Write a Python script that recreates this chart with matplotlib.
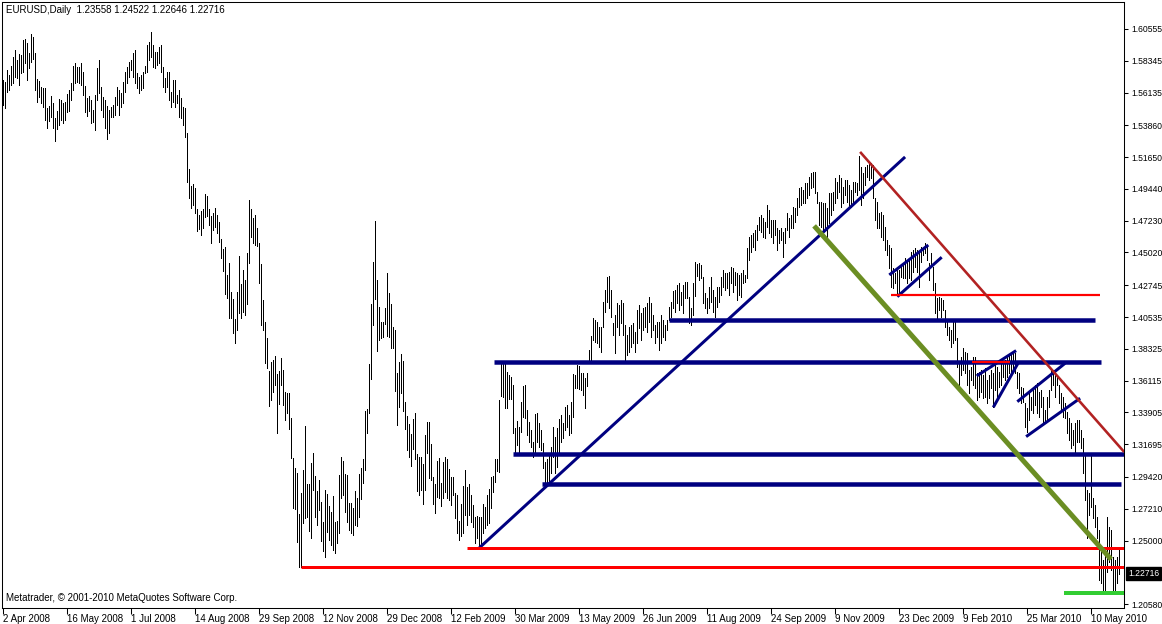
import matplotlib
matplotlib.use("Agg")
import matplotlib.pyplot as plt
import matplotlib.transforms as mtransforms
import numpy as np

plt.rcParams['font.family'] = ['Liberation Sans', 'DejaVu Sans']

symbol_title = "EURUSD,Daily  1.23558 1.24522 1.22646 1.22716"
copyright_text = "Metatrader, \u00a9 2001-2010 MetaQuotes Software Corp."

date_labels = ["2 Apr 2008", "16 May 2008", "1 Jul 2008", "14 Aug 2008", "29 Sep 2008",
               "12 Nov 2008", "29 Dec 2008", "12 Feb 2009", "30 Mar 2009", "13 May 2009",
               "26 Jun 2009", "11 Aug 2009", "24 Sep 2009", "9 Nov 2009", "23 Dec 2009",
               "9 Feb 2010", "25 Mar 2010", "10 May 2010"]
bars_per_date_label = 32

price_ticks = [1.60555, 1.58345, 1.56135, 1.53860, 1.51650, 1.49440, 1.47230, 1.45020,
               1.42745, 1.40535, 1.38325, 1.36115, 1.33905, 1.31695, 1.29420, 1.27210,
               1.25000, 1.20580]
price_tick_labels = ["1.60555", "1.58345", "1.56135", "1.53860", "1.51650", "1.49440",
                     "1.47230", "1.45020", "1.42745", "1.40535", "1.38325", "1.36115",
                     "1.33905", "1.31695", "1.29420", "1.27210", "1.25000", "1.20580"]
last_price = 1.22716
last_price_label = "1.22716"

# daily highs (bar 0 = 2 Apr 2008)
high = [
    1.5701, 1.5687, 1.5771, 1.5736, 1.5798, 1.5861, 1.5910, 1.5840, 1.5882, 1.5875,
    1.5979, 1.5986, 1.5958, 1.5889, 1.6021, 1.6000, 1.5889, 1.5708, 1.5694, 1.5652,
    1.5645, 1.5645, 1.5506, 1.5520, 1.5590, 1.5541, 1.5437, 1.5486, 1.5569, 1.5562,
    1.5541, 1.5548, 1.5604, 1.5632, 1.5680, 1.5798, 1.5819, 1.5791, 1.5791, 1.5819,
    1.5757, 1.5659, 1.5576, 1.5590, 1.5562, 1.5493, 1.5597, 1.5785, 1.5840, 1.5652,
    1.5583, 1.5562, 1.5520, 1.5493, 1.5513, 1.5527, 1.5583, 1.5652, 1.5632, 1.5611,
    1.5687, 1.5757, 1.5791, 1.5826, 1.5840, 1.5889, 1.5910, 1.5750, 1.5722, 1.5736,
    1.5757, 1.5798, 1.5944, 1.5965, 1.6035, 1.5944, 1.5896, 1.5896, 1.5930, 1.5944,
    1.5791, 1.5715, 1.5757, 1.5757, 1.5618, 1.5701, 1.5701, 1.5597, 1.5632, 1.5576,
    1.5513, 1.5506, 1.5333, 1.5083, 1.4965, 1.4979, 1.4951, 1.4805, 1.4763, 1.4791,
    1.4805, 1.4909, 1.4895, 1.4805, 1.4756, 1.4777, 1.4812, 1.4763, 1.4714, 1.4596,
    1.4527, 1.4541, 1.4346, 1.4429, 1.4228, 1.4179, 1.4040, 1.4228, 1.4478, 1.4283,
    1.4381, 1.4311, 1.4499, 1.4867, 1.4805, 1.4742, 1.4763, 1.4673, 1.4568, 1.4422,
    1.4172, 1.4019, 1.3908, 1.3679, 1.3741, 1.3755, 1.3783, 1.3658, 1.3679, 1.3769,
    1.3686, 1.3533, 1.3526, 1.3526, 1.3352, 1.3074, 1.3005, 1.2970, 1.2685, 1.2831,
    1.2991, 1.3296, 1.2893, 1.2893, 1.3039, 1.3109, 1.2949, 1.2845, 1.2921, 1.2768,
    1.2629, 1.2852, 1.2824, 1.2741, 1.2699, 1.2810, 1.2629, 1.2636, 1.2956, 1.3081,
    1.3053, 1.2963, 1.2956, 1.2761, 1.2761, 1.2727, 1.2845, 1.2796, 1.2963, 1.3005,
    1.3067, 1.3401, 1.3415, 1.3727, 1.4144, 1.4436, 1.4721, 1.4311, 1.4124, 1.4019,
    1.4019, 1.4117, 1.4360, 1.4221, 1.4144, 1.3985, 1.3964, 1.3665, 1.3741, 1.3797,
    1.3748, 1.3463, 1.3366, 1.3310, 1.3241, 1.3345, 1.3387, 1.3102, 1.3081, 1.3081,
    1.3032, 1.3234, 1.3324, 1.3324, 1.3171, 1.2942, 1.2893, 1.3053, 1.3074, 1.2900,
    1.3046, 1.3081, 1.3067, 1.2998, 1.2942, 1.2942, 1.2831, 1.2817, 1.2636, 1.2754,
    1.2880, 1.2991, 1.2873, 1.2893, 1.2817, 1.2747, 1.2664, 1.2671, 1.2664, 1.2664,
    1.2754, 1.2733, 1.2817, 1.2859, 1.2942, 1.2949, 1.3067, 1.3067, 1.3477, 1.3741,
    1.3741, 1.3734, 1.3672, 1.3651, 1.3637, 1.3581, 1.3282, 1.3331, 1.3289, 1.3463,
    1.3574, 1.3581, 1.3408, 1.3324, 1.3269, 1.3185, 1.3380, 1.3387, 1.3317, 1.3269,
    1.3178, 1.3046, 1.3067, 1.3095, 1.3151, 1.3289, 1.3220, 1.3282, 1.3345, 1.3373,
    1.3317, 1.3428, 1.3442, 1.3373, 1.3463, 1.3658, 1.3651, 1.3720, 1.3713, 1.3665,
    1.3665, 1.3630, 1.3665, 1.3825, 1.3922, 1.4047, 1.4033, 1.4019, 1.3985, 1.3985,
    1.4158, 1.4242, 1.4332, 1.4339, 1.4242, 1.4012, 1.4068, 1.4151, 1.4137, 1.4172,
    1.4151, 1.3999, 1.3929, 1.3985, 1.3999, 1.4012, 1.3950, 1.4103, 1.4137, 1.4082,
    1.4117, 1.4124, 1.4151, 1.4193, 1.4151, 1.4068, 1.3999, 1.4019, 1.4019, 1.4068,
    1.4033, 1.3999, 1.4033, 1.4124, 1.4158, 1.4235, 1.4242, 1.4276, 1.4290, 1.4228,
    1.4276, 1.4297, 1.4297, 1.4193, 1.4117, 1.4290, 1.4436, 1.4422, 1.4429, 1.4415,
    1.4332, 1.4221, 1.4186, 1.4262, 1.4332, 1.4242, 1.4193, 1.4262, 1.4262, 1.4332,
    1.4381, 1.4360, 1.4360, 1.4367, 1.4402, 1.4395, 1.4367, 1.4360, 1.4346, 1.4360,
    1.4381, 1.4346, 1.4534, 1.4610, 1.4624, 1.4638, 1.4659, 1.4693, 1.4749, 1.4763,
    1.4742, 1.4714, 1.4832, 1.4798, 1.4728, 1.4728, 1.4728, 1.4673, 1.4659, 1.4673,
    1.4645, 1.4673, 1.4777, 1.4742, 1.4763, 1.4819, 1.4812, 1.4881, 1.4951, 1.4958,
    1.4937, 1.4986, 1.4986, 1.5027, 1.5055, 1.5062, 1.5062, 1.4923, 1.4853, 1.4853,
    1.4846, 1.4846, 1.4812, 1.4916, 1.4916, 1.4923, 1.5020, 1.4992, 1.5041, 1.5020,
    1.4958, 1.5006, 1.5006, 1.4972, 1.4937, 1.4992, 1.4992, 1.4986, 1.5173, 1.5097,
    1.5055, 1.5097, 1.5110, 1.5131, 1.5124, 1.5110, 1.4881, 1.4853, 1.4777, 1.4784,
    1.4763, 1.4680, 1.4589, 1.4554, 1.4534, 1.4395, 1.4360, 1.4402, 1.4381, 1.4402,
    1.4429, 1.4464, 1.4450, 1.4464, 1.4506, 1.4520, 1.4534, 1.4520, 1.4506, 1.4541,
    1.4541, 1.4568, 1.4554, 1.4429, 1.4499, 1.4402, 1.4290, 1.4186, 1.4193, 1.4186,
    1.4172, 1.4103, 1.4033, 1.3985, 1.3964, 1.4019, 1.4019, 1.3908, 1.3741, 1.3776,
    1.3839, 1.3811, 1.3804, 1.3686, 1.3706, 1.3776, 1.3776, 1.3665, 1.3672, 1.3686,
    1.3651, 1.3700, 1.3616, 1.3651, 1.3686, 1.3665, 1.3734, 1.3706, 1.3672, 1.3734,
    1.3734, 1.3755, 1.3776, 1.3790, 1.3804, 1.3804, 1.3804, 1.3672, 1.3665, 1.3567,
    1.3561, 1.3456, 1.3422, 1.3533, 1.3498, 1.3561, 1.3581, 1.3595, 1.3533, 1.3547,
    1.3498, 1.3408, 1.3498, 1.3547, 1.3686, 1.3686, 1.3672, 1.3651, 1.3581, 1.3526,
    1.3498, 1.3456, 1.3394, 1.3352, 1.3317, 1.3269, 1.3317, 1.3338, 1.3338, 1.3269,
    1.3213, 1.3095, 1.2852, 1.2831, 1.3095, 1.2796, 1.2747, 1.2664, 1.2574, 1.2435,
    1.2365, 1.2435, 1.2664, 1.2595, 1.2574, 1.2386, 1.2365, 1.2386, 1.24522,
]

# daily lows
low = [
    1.5527, 1.5506, 1.5618, 1.5632, 1.5666, 1.5680, 1.5722, 1.5715, 1.5666, 1.5750,
    1.5757, 1.5819, 1.5701, 1.5785, 1.5826, 1.5847, 1.5632, 1.5548, 1.5583, 1.5541,
    1.5513, 1.5423, 1.5367, 1.5416, 1.5444, 1.5367, 1.5277, 1.5360, 1.5388, 1.5423,
    1.5402, 1.5423, 1.5479, 1.5486, 1.5562, 1.5632, 1.5680, 1.5687, 1.5680, 1.5666,
    1.5597, 1.5479, 1.5451, 1.5486, 1.5402, 1.5409, 1.5354, 1.5562, 1.5611, 1.5493,
    1.5444, 1.5367, 1.5291, 1.5333, 1.5444, 1.5444, 1.5458, 1.5527, 1.5458, 1.5513,
    1.5541, 1.5618, 1.5680, 1.5722, 1.5771, 1.5722, 1.5680, 1.5645, 1.5611, 1.5632,
    1.5645, 1.5750, 1.5757, 1.5840, 1.5861, 1.5791, 1.5785, 1.5805, 1.5819, 1.5757,
    1.5652, 1.5618, 1.5652, 1.5562, 1.5513, 1.5548, 1.5513, 1.5541, 1.5444, 1.5437,
    1.5388, 1.5305, 1.4992, 1.4881, 1.4812, 1.4832, 1.4777, 1.4652, 1.4666, 1.4624,
    1.4673, 1.4749, 1.4756, 1.4693, 1.4568, 1.4659, 1.4680, 1.4638, 1.4575, 1.4464,
    1.4374, 1.4214, 1.4186, 1.4047, 1.4047, 1.3943, 1.3873, 1.3964, 1.4082, 1.4047,
    1.4089, 1.4068, 1.4145, 1.4429, 1.4610, 1.4568, 1.4554, 1.4547, 1.4290, 1.3999,
    1.3964, 1.3734, 1.3700, 1.3435, 1.3477, 1.3533, 1.3581, 1.3248, 1.3449, 1.3581,
    1.3442, 1.3338, 1.3387, 1.3276, 1.3074, 1.2727, 1.2720, 1.2490, 1.2317, 1.2317,
    1.2622, 1.2657, 1.2664, 1.2567, 1.2518, 1.2852, 1.2664, 1.2609, 1.2713, 1.2497,
    1.2428, 1.2386, 1.2560, 1.2504, 1.2469, 1.2435, 1.2414, 1.2483, 1.2553, 1.2796,
    1.2817, 1.2699, 1.2629, 1.2574, 1.2553, 1.2539, 1.2609, 1.2602, 1.2664, 1.2789,
    1.2900, 1.2991, 1.3248, 1.3387, 1.3623, 1.3999, 1.4179, 1.3818, 1.3894, 1.3908,
    1.3915, 1.4005, 1.3922, 1.3915, 1.3839, 1.3839, 1.3540, 1.3303, 1.3428, 1.3526,
    1.3401, 1.3276, 1.3130, 1.3081, 1.3018, 1.3137, 1.3067, 1.2845, 1.2817, 1.2852,
    1.2754, 1.2852, 1.3109, 1.2935, 1.2921, 1.2754, 1.2692, 1.2803, 1.2796, 1.2741,
    1.2796, 1.2838, 1.2796, 1.2782, 1.2747, 1.2817, 1.2657, 1.2553, 1.2504, 1.2532,
    1.2553, 1.2678, 1.2609, 1.2678, 1.2629, 1.2595, 1.2483, 1.2518, 1.2449, 1.2456,
    1.2553, 1.2588, 1.2609, 1.2622, 1.2727, 1.2838, 1.2907, 1.2984, 1.2977, 1.3505,
    1.3498, 1.3422, 1.3422, 1.3484, 1.3484, 1.3248, 1.3109, 1.3165, 1.3095, 1.3255,
    1.3359, 1.3352, 1.3234, 1.3185, 1.3151, 1.3081, 1.3116, 1.3185, 1.3151, 1.3130,
    1.3005, 1.2907, 1.2880, 1.2887, 1.2970, 1.3081, 1.2970, 1.3011, 1.3109, 1.3185,
    1.3213, 1.3269, 1.3289, 1.3234, 1.3248, 1.3359, 1.3561, 1.3561, 1.3554, 1.3547,
    1.3512, 1.3422, 1.3574, 1.3734, 1.3734, 1.3894, 1.3880, 1.3873, 1.3846, 1.3811,
    1.3985, 1.4089, 1.4158, 1.4117, 1.4054, 1.3929, 1.3804, 1.3985, 1.3929, 1.4012,
    1.3929, 1.3755, 1.3790, 1.3811, 1.3846, 1.3873, 1.3811, 1.3873, 1.3978, 1.3894,
    1.3964, 1.3985, 1.3950, 1.4019, 1.3915, 1.3964, 1.3873, 1.3915, 1.3825, 1.3873,
    1.3915, 1.3894, 1.3964, 1.4033, 1.4054, 1.4117, 1.4089, 1.4151, 1.4103, 1.4137,
    1.4082, 1.4186, 1.4186, 1.4012, 1.3999, 1.4068, 1.4200, 1.4339, 1.4311, 1.4325,
    1.4151, 1.4117, 1.4082, 1.4117, 1.4158, 1.4089, 1.4054, 1.4124, 1.4158, 1.4207,
    1.4262, 1.4242, 1.4255, 1.4207, 1.4290, 1.4228, 1.4276, 1.4172, 1.4207, 1.4193,
    1.4290, 1.4297, 1.4325, 1.4450, 1.4506, 1.4541, 1.4520, 1.4589, 1.4659, 1.4645,
    1.4610, 1.4603, 1.4680, 1.4638, 1.4610, 1.4568, 1.4624, 1.4520, 1.4568, 1.4589,
    1.4471, 1.4568, 1.4659, 1.4610, 1.4673, 1.4673, 1.4714, 1.4763, 1.4819, 1.4832,
    1.4846, 1.4846, 1.4881, 1.4902, 1.4951, 1.4958, 1.4916, 1.4846, 1.4693, 1.4680,
    1.4638, 1.4673, 1.4610, 1.4707, 1.4763, 1.4798, 1.4846, 1.4881, 1.4923, 1.4819,
    1.4846, 1.4902, 1.4853, 1.4812, 1.4819, 1.4853, 1.4923, 1.4902, 1.4937, 1.4832,
    1.4881, 1.4972, 1.5027, 1.5006, 1.5020, 1.4881, 1.4728, 1.4673, 1.4673, 1.4610,
    1.4589, 1.4520, 1.4485, 1.4395, 1.4262, 1.4255, 1.4290, 1.4207, 1.4228, 1.4332,
    1.4325, 1.4325, 1.4290, 1.4325, 1.4311, 1.4367, 1.4402, 1.4367, 1.4262, 1.4436,
    1.4485, 1.4499, 1.4450, 1.4311, 1.4402, 1.4242, 1.4082, 1.4033, 1.4103, 1.4054,
    1.4103, 1.3985, 1.3929, 1.3894, 1.3846, 1.3873, 1.3894, 1.3706, 1.3581, 1.3651,
    1.3686, 1.3665, 1.3581, 1.3526, 1.3616, 1.3581, 1.3561, 1.3477, 1.3498, 1.3533,
    1.3491, 1.3498, 1.3456, 1.3491, 1.3561, 1.3428, 1.3547, 1.3498, 1.3568, 1.3581,
    1.3637, 1.3616, 1.3637, 1.3665, 1.3665, 1.3686, 1.3665, 1.3561, 1.3526, 1.3456,
    1.3463, 1.3289, 1.3255, 1.3338, 1.3408, 1.3387, 1.3442, 1.3387, 1.3359, 1.3428,
    1.3324, 1.3317, 1.3338, 1.3428, 1.3547, 1.3581, 1.3498, 1.3581, 1.3456, 1.3408,
    1.3359, 1.3352, 1.3248, 1.3199, 1.3143, 1.3165, 1.3109, 1.3185, 1.3185, 1.3143,
    1.2970, 1.2782, 1.2518, 1.2678, 1.2733, 1.2657, 1.2595, 1.2518, 1.2226, 1.2205,
    1.2143, 1.2136, 1.2282, 1.2351, 1.2296, 1.2157, 1.2143, 1.2205, 1.22646,
]

# drawn objects: (start bar, start price, end bar, end price); end bar None = ray to the right edge
blue_horizontals = [(245.8, 1.3741, 549.0, 1.3741),
                    (255.3, 1.3102, None, 1.3102),
                    (269.8, 1.2893, 559.0, 1.2893),
                    (333.3, 1.4033, 546.0, 1.4033)]
blue_trend = [(238.3, 1.2449, 451.2, 1.5166)]
blue_channels = [(443.3, 1.4346, 462.8, 1.4554),
                 (447.3, 1.4195, 469.5, 1.4469),
                 (487.0, 1.3644, 506.7, 1.3820),
                 (495.3, 1.3426, 507.8, 1.3736),
                 (507.3, 1.3465, 531.2, 1.3732),
                 (511.7, 1.3222, 538.7, 1.3489)]
red_supports = [(149.0, 1.2317, None, 1.2317),
                (232.0, 1.2449, None, 1.2449)]
red_thin = [(444.2, 1.4207, 548.6, 1.4207),
            (484.7, 1.3739, 503.7, 1.3739)]
brown_resistance = [(428.7, 1.5201, 560.7, 1.3116)]
olive_trend = [(405.7, 1.4687, 554.2, 1.2369)]
green_target = [(530.7, 1.2138, None, 1.2138)]

# ---------------------------------------------------------------
W, H = 1162, 624
fig = plt.figure(figsize=(W / 100, H / 100), dpi=100)
fig.patch.set_facecolor('white')
left_px, right_px, top_px, bot_px = 2, 1124, 2, 608
ax = fig.add_axes([left_px / W, 1 - bot_px / H, (right_px - left_px) / W, (bot_px - top_px) / H])

x0 = (left_px - 2.7) / 2.0
x1 = (right_px - 2.7) / 2.0
ax.set_xlim(x0, x1)
ax.set_ylim(1.2031, 1.6243)

xs = np.arange(len(high))
ax.vlines(xs, low, high, colors='black', linewidth=0.55, antialiased=False, zorder=2)

px = 0.72  # one pixel in points


def draw(lines, color, width_px, z):
    for (a, pa, b, pb) in lines:
        if b is None:
            b = x1
        ax.plot([a, b], [pa, pb], color=color, lw=width_px * px,
                solid_capstyle='butt', zorder=z)


draw(blue_horizontals, '#000080', 4.5, 3)
draw(blue_trend, '#000080', 3, 3)
draw(blue_channels, '#000080', 3, 3)
draw(red_supports, '#ff0000', 3, 4)
draw(red_thin, '#ff0000', 2.2, 4)
draw(olive_trend, '#6b8e23', 5, 5)
draw(brown_resistance, '#b22222', 2.6, 5)
draw(green_target, '#32cd32', 4, 5)

# axes styling
for s in ax.spines.values():
    s.set_color('black')
    s.set_linewidth(0.75)

ax.yaxis.tick_right()
ax.set_yticks(price_ticks)
ax.set_yticklabels(price_tick_labels)
ax.tick_params(axis='y', direction='out', length=3, width=0.75, pad=2,
               labelsize=6.2, colors='black')

date_positions = [k * bars_per_date_label for k in range(len(date_labels))]
ax.set_xticks(date_positions)
ax.set_xticklabels(date_labels, ha='left')
ax.tick_params(axis='x', direction='out', length=4, width=0.75, pad=0.5,
               labelsize=7, colors='black')

# current price box
trans = mtransforms.blended_transform_factory(ax.transAxes, ax.transData)
ax.text(1.0 + 4 / (right_px - left_px), last_price, last_price_label, transform=trans,
        ha='left', va='center', fontsize=6.2, color='white', clip_on=False, zorder=10,
        bbox=dict(boxstyle='square,pad=0.2', fc='black', ec='black'))

fig.text(6 / W, 1 - 10 / H, symbol_title, ha='left', va='center', fontsize=7, color='black')
ax.text(4 / (right_px - left_px), 1 - (598 - top_px) / (bot_px - top_px), copyright_text,
        transform=ax.transAxes, ha='left', va='center', fontsize=7, color='black')

fig.savefig('out.png', dpi=100, facecolor='white')
